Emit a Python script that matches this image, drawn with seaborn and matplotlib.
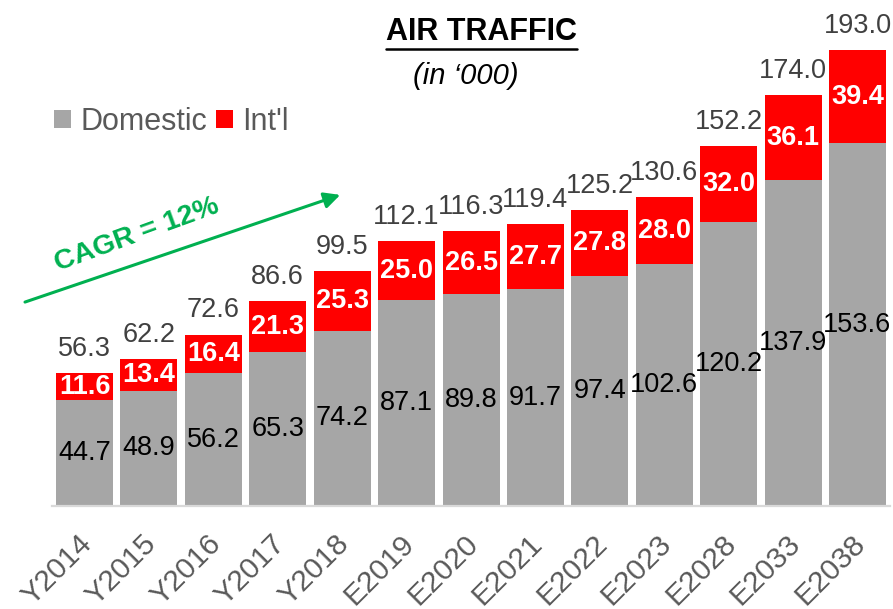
import pandas as pd
import seaborn as sns
import matplotlib.pyplot as plt
from matplotlib.patches import Patch
from matplotlib.lines import Line2D
from matplotlib.transforms import ScaledTranslation

# chart data
years = ['Y2014', 'Y2015', 'Y2016', 'Y2017', 'Y2018', 'E2019', 'E2020',
         'E2021', 'E2022', 'E2023', 'E2028', 'E2033', 'E2038']
domestic = [44.7, 48.9, 56.2, 65.3, 74.2, 87.1, 89.8, 91.7, 97.4, 102.6, 120.2, 137.9, 153.6]
intl = [11.6, 13.4, 16.4, 21.3, 25.3, 25.0, 26.5, 27.7, 27.8, 28.0, 32.0, 36.1, 39.4]
totals = [56.3, 62.2, 72.6, 86.6, 99.5, 112.1, 116.3, 119.4, 125.2, 130.6, 152.2, 174.0, 193.0]

GREY = '#A6A6A6'
RED = '#FF0000'
GREEN = '#00B050'

sns.set_style('white')
plt.rcParams['font.family'] = ['Liberation Sans', 'DejaVu Sans']

df = pd.DataFrame({'year': years, 'domestic': domestic, 'intl': intl, 'total': totals})

fig = plt.figure(figsize=(8.93, 6.09), dpi=100)
ax = fig.add_axes([0.0586, 0.169, 0.9377, 0.776])

# stacked bars: red full-height first, grey domestic on top
sns.barplot(data=df, x='year', y='total', color=RED, saturation=1, width=0.885,
            edgecolor='none', ax=ax)
sns.barplot(data=df, x='year', y='domestic', color=GREY, saturation=1, width=0.885,
            edgecolor='none', ax=ax)

ax.set_xlim(-0.5, len(years) - 0.5)
ax.set_ylim(0, 200)
ax.set_xlabel('')
ax.set_ylabel('')
ax.set_yticks([])
sns.despine(ax=ax, left=True)
ax.spines['bottom'].set_color('#D9D9D9')
ax.spines['bottom'].set_linewidth(1.6)
ax.tick_params(axis='x', length=0, pad=17)
shift = ScaledTranslation(-5 / 72, 0, fig.dpi_scale_trans)
for lbl in ax.get_xticklabels():
    lbl.set_rotation(45)
    lbl.set_rotation_mode('anchor')
    lbl.set_ha('right')
    lbl.set_va('top')
    lbl.set_fontsize(21.5)
    lbl.set_color('#595959')
    lbl.set_transform(lbl.get_transform() + shift)

for i in range(len(years)):
    ax.text(i, domestic[i] / 2, f'{domestic[i]:.1f}', ha='center', va='center',
            fontsize=19.5, color='black')
    ax.text(i, domestic[i] + intl[i] / 2, f'{intl[i]:.1f}', ha='center', va='center',
            fontsize=19.5, color='white', fontweight='bold')
    ax.annotate(f'{totals[i]:.1f}', xy=(i, totals[i]), xytext=(0, 8),
                textcoords='offset points', ha='center', va='bottom',
                fontsize=19.5, color='#404040')

# titles
title = fig.text(0.539, 0.947, 'AIR TRAFFIC', ha='center', va='center',
                 fontsize=22, fontweight='bold', color='black')
fig.text(0.522, 0.875, '(in \u2018000)', ha='center', va='center',
         fontsize=21, style='italic', color='black')

# legend
handles = [Patch(facecolor=GREY, edgecolor='none', label='Domestic'),
           Patch(facecolor=RED, edgecolor='none', label="Int'l")]
leg = fig.legend(handles=handles, loc='center left', bbox_to_anchor=(0.047, 0.8),
                 ncol=2, frameon=False, fontsize=22, handlelength=0.55,
                 handleheight=0.55, handletextpad=0.3, columnspacing=0.3,
                 borderaxespad=0)
for t in leg.get_texts():
    t.set_color('#595959')

# CAGR arrow
ax.annotate('', xy=(0.381, 0.680), xytext=(0.028, 0.504), xycoords='figure fraction',
            textcoords='figure fraction',
            arrowprops=dict(arrowstyle='-|>', color=GREEN, lw=2.2, mutation_scale=24,
                            shrinkA=0, shrinkB=0))
fig.text(0.153, 0.614, 'CAGR = 12%', rotation=20, ha='center', va='center',
         fontsize=20.5, fontweight='bold', color=GREEN)

# underline the title
fig.canvas.draw()
bb = title.get_window_extent()
W, H = fig.bbox.width, fig.bbox.height
y_line = (bb.y0 - 2) / H
fig.add_artist(Line2D([bb.x0 / W, bb.x1 / W], [y_line, y_line], color='black',
                      lw=1.8, transform=fig.transFigure))

fig.savefig('out.png', dpi=100)
